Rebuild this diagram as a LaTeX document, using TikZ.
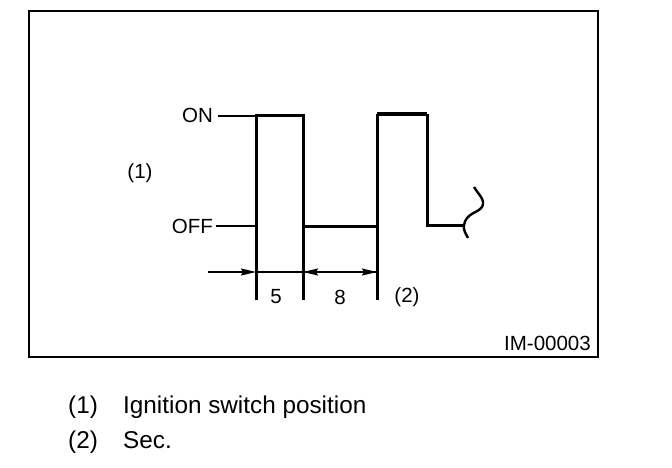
\documentclass[tikz,border=0pt]{standalone}
\usepackage{fontspec}
\setmainfont{Liberation Sans}
\usetikzlibrary{arrows.meta}
\begin{document}
\begin{tikzpicture}[x=1pt,y=-1pt,
  lbl/.style={inner sep=0pt,font=\fontsize{20.5}{24}\selectfont},
  captext/.style={inner sep=0pt,anchor=base west,font=\fontsize{24.3}{28}\selectfont},
  wave/.style={line width=3pt},
  lead/.style={line width=2pt},
  dim/.style={line width=1.6pt},
  tip/.style={-{Stealth[length=15pt,width=7pt,inset=2pt]}}
]
\useasboundingbox (0,0) rectangle (672,468);
\draw[line width=2.6pt] (29,11) rectangle (598,357);
% coordinates
\coordinate (a0) at (256,300);
\coordinate (a1) at (256,116);
\coordinate (a2) at (303,116);
\coordinate (a3) at (303,300);
\coordinate (b0) at (303,226);
\coordinate (b1) at (377,226);
\coordinate (c0) at (377,300);
\coordinate (c1) at (377,114);
\coordinate (c2) at (427,114);
\coordinate (c3) at (427,225);
\coordinate (c4) at (464,225);
\coordinate (onl) at (218,116);
\coordinate (offl) at (216,226);
\coordinate (offr) at (256,226);
\coordinate (d0) at (208,272);
\coordinate (d1) at (256,272);
\coordinate (d2) at (303,272);
\coordinate (d3) at (377,272);
% labels
\node[lbl,anchor=east] (on) at (213,115) {ON};
\node[lbl,anchor=east] (off) at (213,226) {OFF};
\node[lbl] (p1) at (140,173) {(1)};
\node[lbl] (n5) at (276,297) {5};
\node[lbl] (n8) at (340,297) {8};
\node[lbl] (p2) at (407,297) {(2)};
\node[lbl,anchor=east] (im) at (591,343) {IM-00003};
% leaders
\draw[lead] (onl) -- (a1);
\draw[lead] (offl) -- (offr);
% waveform
\draw[wave] (a0) -- (a1) -- (a2) -- (a3);
\draw[wave] (b0) -- (b1);
\draw[wave] (c0) -- (c1);
\draw[line width=4pt] (c1) -- (c2);
\draw[wave] (c2) -- (c3) -- (c4);
\draw[line width=2.4pt] (474,187) .. controls (478,194) and (486,200) .. (482,207)
  .. controls (478,213) and (466,213) .. (464,225)
  .. controls (463,230) and (466,234) .. (468,238);
% dimensions
\draw[dim,tip] (d0) -- (d1);
\draw[dim] (d1) -- (d2);
\draw[dim,tip] (d2) -- (d3);
\draw[dim,tip] (d3) -- (d2);
% caption
\node[captext] (c1t) at (68,413) {(1)};
\node[captext] (c1d) at (123,413) {Ignition switch position};
\node[captext] (c2t) at (68,448) {(2)};
\node[captext] (c2d) at (123,448) {Sec.};
\end{tikzpicture}
\end{document}
